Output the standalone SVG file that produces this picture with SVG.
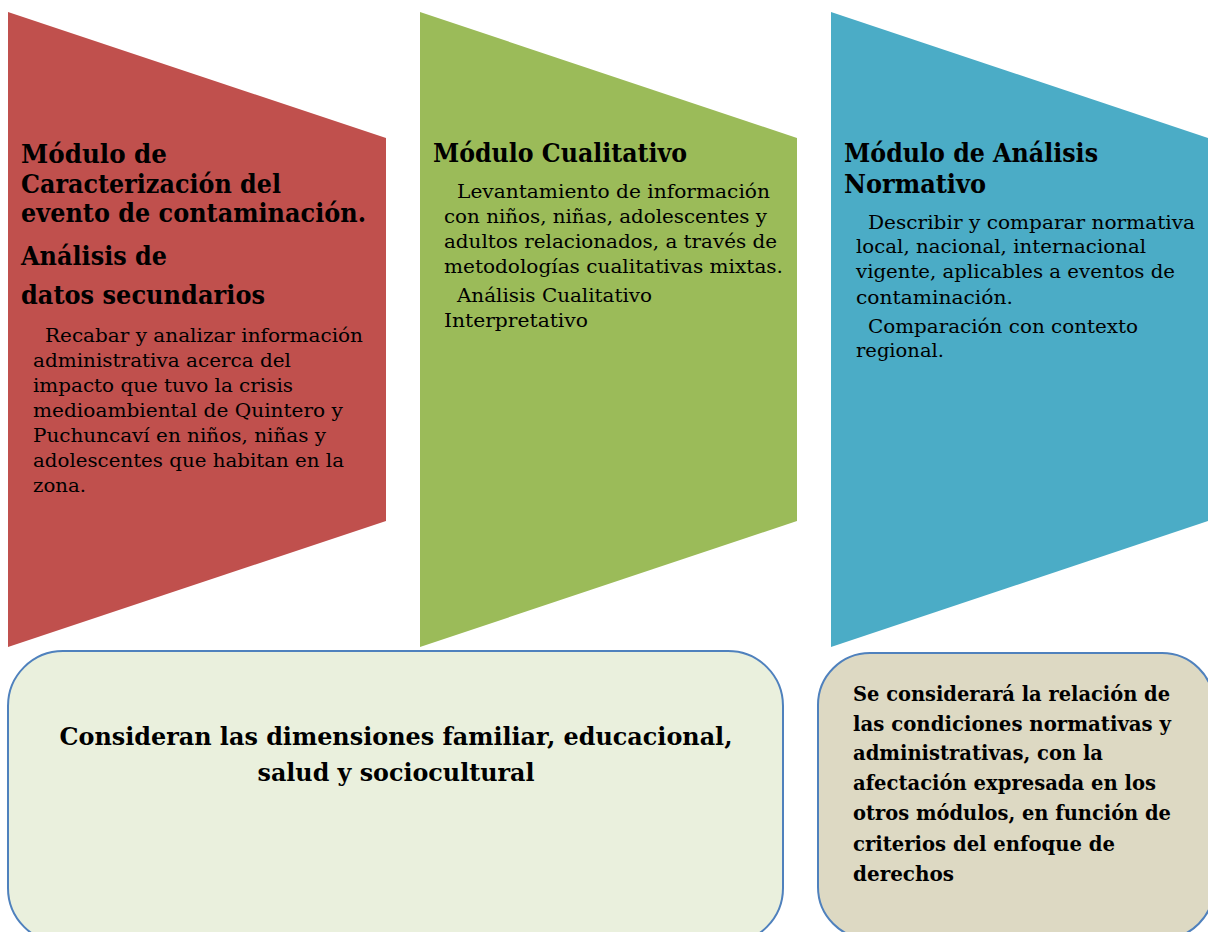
<svg xmlns="http://www.w3.org/2000/svg" width="1208" height="932" viewBox="0 0 1208 932">
<style>
.t{font-family:"DejaVu Serif","Liberation Serif",serif;font-weight:bold;font-size:25.5px;fill:#000}
.b{font-family:"DejaVu Serif","Liberation Serif",serif;font-size:19px;fill:#000}
.s{font-family:"DejaVu Serif","Liberation Serif",serif;font-weight:bold;font-size:20px;fill:#000}
.c{font-family:"DejaVu Serif","Liberation Serif",serif;font-weight:bold;font-size:25px;fill:#000}
.box{stroke:#4F81BD;stroke-width:2}
</style>
<rect width="1208" height="932" fill="#fff"/>
<g id="mod-caracterizacion">
<polygon points="8,12 386,138 386,521 8,647" fill="#C0504D"/>
<text class="t" x="21" y="163" textLength="146" lengthAdjust="spacingAndGlyphs">Módulo de</text>
<text class="t" x="21" y="193" textLength="260" lengthAdjust="spacingAndGlyphs">Caracterización del</text>
<text class="t" x="21" y="222" textLength="345" lengthAdjust="spacingAndGlyphs">evento de contaminación.</text>
<text class="t" x="21" y="265" textLength="146" lengthAdjust="spacingAndGlyphs">Análisis de</text>
<text class="t" x="21" y="304" textLength="244" lengthAdjust="spacingAndGlyphs">datos secundarios</text>
<text class="b" x="45" y="342" textLength="318" lengthAdjust="spacingAndGlyphs">Recabar y analizar información</text>
<text class="b" x="33" y="367" textLength="258" lengthAdjust="spacingAndGlyphs">administrativa acerca del</text>
<text class="b" x="33" y="392" textLength="260" lengthAdjust="spacingAndGlyphs">impacto que tuvo la crisis</text>
<text class="b" x="33" y="417" textLength="310" lengthAdjust="spacingAndGlyphs">medioambiental de Quintero y</text>
<text class="b" x="33" y="442" textLength="293" lengthAdjust="spacingAndGlyphs">Puchuncaví en niños, niñas y</text>
<text class="b" x="33" y="467" textLength="311" lengthAdjust="spacingAndGlyphs">adolescentes que habitan en la</text>
<text class="b" x="33" y="492" textLength="53" lengthAdjust="spacingAndGlyphs">zona.</text>
</g>
<g id="mod-cualitativo">
<polygon points="420,12 797,138 797,521 420,647" fill="#9BBB59"/>
<text class="t" x="433" y="162" textLength="254" lengthAdjust="spacingAndGlyphs">Módulo Cualitativo</text>
<text class="b" x="457" y="198" textLength="313" lengthAdjust="spacingAndGlyphs">Levantamiento de información</text>
<text class="b" x="444" y="223" textLength="323" lengthAdjust="spacingAndGlyphs">con niños, niñas, adolescentes y</text>
<text class="b" x="444" y="248" textLength="333" lengthAdjust="spacingAndGlyphs">adultos relacionados, a través de</text>
<text class="b" x="444" y="273" textLength="339" lengthAdjust="spacingAndGlyphs">metodologías cualitativas mixtas.</text>
<text class="b" x="457" y="302" textLength="195" lengthAdjust="spacingAndGlyphs">Análisis Cualitativo</text>
<text class="b" x="444" y="327" textLength="144" lengthAdjust="spacingAndGlyphs">Interpretativo</text>
</g>
<g id="mod-normativo">
<polygon points="831,12 1208,138 1208,521 831,647" fill="#4BACC6"/>
<text class="t" x="844" y="162" textLength="254" lengthAdjust="spacingAndGlyphs">Módulo de Análisis</text>
<text class="t" x="844" y="193" textLength="142" lengthAdjust="spacingAndGlyphs">Normativo</text>
<text class="b" x="868" y="229" textLength="327" lengthAdjust="spacingAndGlyphs">Describir y comparar normativa</text>
<text class="b" x="856" y="253" textLength="290" lengthAdjust="spacingAndGlyphs">local, nacional, internacional</text>
<text class="b" x="856" y="278" textLength="319" lengthAdjust="spacingAndGlyphs">vigente, aplicables a eventos de</text>
<text class="b" x="856" y="304" textLength="157" lengthAdjust="spacingAndGlyphs">contaminación.</text>
<text class="b" x="868" y="333" textLength="270" lengthAdjust="spacingAndGlyphs">Comparación con contexto</text>
<text class="b" x="856" y="357" textLength="88" lengthAdjust="spacingAndGlyphs">regional.</text>
</g>
<g id="dimensiones">
<rect class="box" x="8" y="651" width="775" height="292" rx="55" ry="55" fill="#EAF0DD"/>
<text class="c" x="396" y="745" text-anchor="middle" textLength="673" lengthAdjust="spacingAndGlyphs">Consideran las dimensiones familiar, educacional,</text>
<text class="c" x="396" y="781" text-anchor="middle" textLength="277" lengthAdjust="spacingAndGlyphs">salud y sociocultural</text>
</g>
<g id="relacion">
<rect class="box" x="818" y="653" width="396" height="286" rx="52" ry="52" fill="#DDD9C3"/>
<text class="s" x="853" y="701" textLength="317" lengthAdjust="spacingAndGlyphs">Se considerará la relación de</text>
<text class="s" x="853" y="731" textLength="318" lengthAdjust="spacingAndGlyphs">las condiciones normativas y</text>
<text class="s" x="853" y="760" textLength="250" lengthAdjust="spacingAndGlyphs">administrativas, con la</text>
<text class="s" x="853" y="790" textLength="303" lengthAdjust="spacingAndGlyphs">afectación expresada en los</text>
<text class="s" x="853" y="820" textLength="318" lengthAdjust="spacingAndGlyphs">otros módulos, en función de</text>
<text class="s" x="853" y="851" textLength="262" lengthAdjust="spacingAndGlyphs">criterios del enfoque de</text>
<text class="s" x="853" y="881" textLength="101" lengthAdjust="spacingAndGlyphs">derechos</text>
</g>
<g id="connectors"></g>
</svg>
